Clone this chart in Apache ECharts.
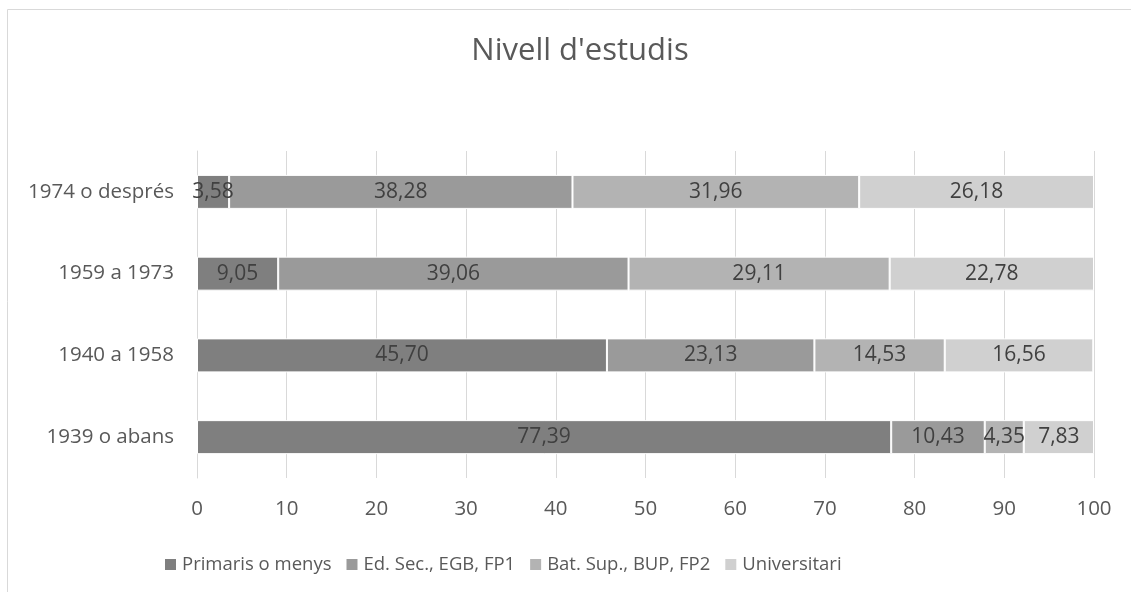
<!DOCTYPE html>
<html><head><meta charset="utf-8">
<script src="https://cdn.jsdelivr.net/npm/echarts@6/dist/echarts.min.js"></script>
<style>html,body{margin:0;padding:0;background:#fff}#c{width:1131px;height:592px}</style>
</head><body><div id="c"></div>
<script>
const categories = ['1939 o abans','1940 a 1958','1959 a 1973','1974 o després'];
const seriesNames = ['Primaris o menys','Ed. Sec., EGB, FP1','Bat. Sup., BUP, FP2','Universitari'];
const primaris = [77.39, 45.70, 9.05, 3.58];
const edSec = [10.43, 23.13, 39.06, 38.28];
const batSup = [4.35, 14.53, 29.11, 31.96];
const universitari = [7.83, 16.56, 22.78, 26.18];
const xTicks = [0,10,20,30,40,50,60,70,80,90,100];
const colors = ['#7f7f7f','#9a9a9a','#b3b3b3','#d0d0d0'];
const values = [primaris, edSec, batSup, universitari];
const font = 'Open Sans, Liberation Sans, sans-serif';
const chart = echarts.init(document.getElementById('c'));
chart.setOption({
  animation:false,
  title:{text:"Nivell d'estudis",left:575,textAlign:'center',top:31,textStyle:{fontFamily:font,fontSize:31,fontWeight:'normal',color:'#595959'}},
  graphic:[{type:'rect',shape:{x:7.5,y:9.5,width:1130,height:600},style:{fill:'none',stroke:'#d9d9d9',lineWidth:1}}],
  legend:{top:550,left:158,itemWidth:13,itemHeight:13,itemGap:13,icon:'rect',
    textStyle:{fontFamily:font,fontSize:18.5,color:'#595959'},data:seriesNames},
  grid:{left:197,right:37,top:151,bottom:114},
  xAxis:{type:'value',min:0,max:100,interval:10,
    axisLabel:{fontFamily:font,fontSize:20.5,color:'#595959',margin:21,formatter:v=>String(xTicks[v/10])}, 
    splitLine:{lineStyle:{color:'#d9d9d9',width:1}},axisLine:{show:false},axisTick:{show:false}},
  yAxis:{type:'category',data:categories,axisTick:{show:false},
    axisLine:{lineStyle:{color:'#d9d9d9'}},
    axisLabel:{fontFamily:font,fontSize:20.5,color:'#595959',margin:23}},
  series: seriesNames.map((n,i)=>({
    name:n,type:'bar',stack:'t',barWidth:34,data:values[i],
    itemStyle:{color:colors[i],borderColor:'#fff',borderWidth:1},
    label:{show:true,position:'inside',fontFamily:font,fontSize:21,color:'#404040',
      formatter:p=>p.value.toFixed(2).replace('.',',')}
  }))
});
</script></body></html>
